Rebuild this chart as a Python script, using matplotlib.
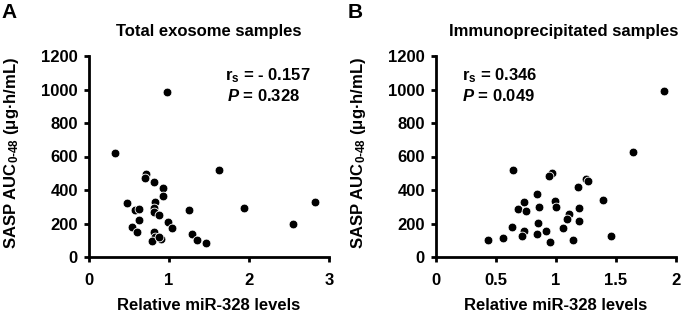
import numpy as np
import matplotlib.pyplot as plt

plt.rcParams['font.family'] = ['Liberation Sans', 'DejaVu Sans']
plt.rcParams['font.weight'] = 'bold'
plt.rcParams['mathtext.fontset'] = 'custom'
plt.rcParams['mathtext.rm'] = 'Liberation Sans:bold'
plt.rcParams['mathtext.it'] = 'Liberation Sans:italic:bold'
plt.rcParams['mathtext.bf'] = 'Liberation Sans:bold'

# panel A: total exosome samples
total_x = [0.98, 0.33, 1.63, 2.83, 1.94, 2.55, 1.25, 0.71, 0.70, 0.81, 0.93, 0.92,
           0.83, 0.48, 0.57, 0.63, 0.81, 0.81, 0.88, 0.63, 0.99, 1.04, 0.54, 0.60,
           0.81, 0.82, 0.79, 0.90, 1.29, 1.35, 1.46, 0.88]
total_y = [985, 620, 520, 328, 290, 200, 278, 496, 472, 446, 414, 366,
           330, 320, 280, 288, 290, 268, 250, 220, 206, 172, 178, 150,
           150, 120, 96, 110, 136, 100, 84, 118]

# panel B: immunoprecipitated samples
ip_x = [1.90, 1.64, 0.64, 0.97, 0.94, 1.25, 1.27, 1.18, 1.39, 0.84, 0.99, 0.73,
        0.68, 0.75, 0.86, 1.00, 1.19, 1.11, 1.09, 0.85, 1.19, 0.63, 1.06, 0.73,
        0.92, 0.72, 0.84, 1.46, 0.43, 0.56, 0.95, 1.14]
ip_y = [990, 625, 520, 500, 484, 468, 452, 420, 338, 374, 334, 326,
        288, 274, 298, 296, 294, 256, 224, 204, 212, 182, 176, 156,
        156, 126, 140, 124, 102, 116, 90, 102]

panels = [
    dict(letter='A', title='Total exosome samples', x=total_x, y=total_y,
         xlim=3, xticks=[0, 1, 2, 3], xticklabels=['0', '1', '2', '3'],
         rs='r$_\\mathregular{s}$ = - 0.157', p='$\\mathit{P}$ = 0.328',
         tx=1.70, px=1.73, left=89, title_x=0.5),
    dict(letter='B', title='Immunoprecipitated samples', x=ip_x, y=ip_y,
         xlim=2, xticks=[0, 0.5, 1, 1.5, 2], xticklabels=['0', '0.5', '1', '1.5', '2'],
         rs='r$_\\mathregular{s}$ = 0.346', p='$\\mathit{P}$ = 0.049',
         tx=0.22, px=0.22, left=436, title_x=0.53),
]

W, H = 685, 313
fig = plt.figure(figsize=(W / 100, H / 100), dpi=100)

for pnl in panels:
    ax = fig.add_axes([pnl['left'] / W, (H - 257) / H, 240 / W, 201 / H])
    ax.scatter(pnl['x'], pnl['y'], s=40, color='black', edgecolors='white',
               linewidths=0.6, zorder=3, clip_on=False)
    ax.set_xlim(0, pnl['xlim'])
    ax.set_ylim(0, 1200)
    ax.set_xticks(pnl['xticks'])
    ax.set_xticklabels(pnl['xticklabels'])
    ax.set_yticks(range(0, 1201, 200))
    for side in ['top', 'right']:
        ax.spines[side].set_visible(False)
    for side in ['left', 'bottom']:
        ax.spines[side].set_linewidth(2)
    ax.tick_params(direction='out', length=3.5, width=2, labelsize=12, pad=4.5)
    ax.tick_params(axis='x', pad=8)
    ax.set_xlabel('Relative miR-328 levels', fontsize=12, fontweight='bold', labelpad=7)
    ax.set_ylabel('SASP AUC$_\\mathregular{0\\text{-}48}$ (μg·h/mL)', fontsize=12,
                  fontweight='bold')
    ax.yaxis.set_label_coords(-68 / 240, 0.52)
    ax.set_title(pnl['title'], fontsize=12, fontweight='bold', pad=14.5,
                 x=pnl['title_x'])
    ax.text(pnl['tx'], 1080, pnl['rs'], fontsize=12, fontweight='bold', va='center')
    ax.text(pnl['px'], 960, pnl['p'], fontsize=12, fontweight='bold', va='center')
    fig.text((pnl['left'] - 88) / W, 1 - 12 / H, pnl['letter'], fontsize=15,
             fontweight='bold', va='center', ha='left')

fig.savefig('out.png', dpi=100)
